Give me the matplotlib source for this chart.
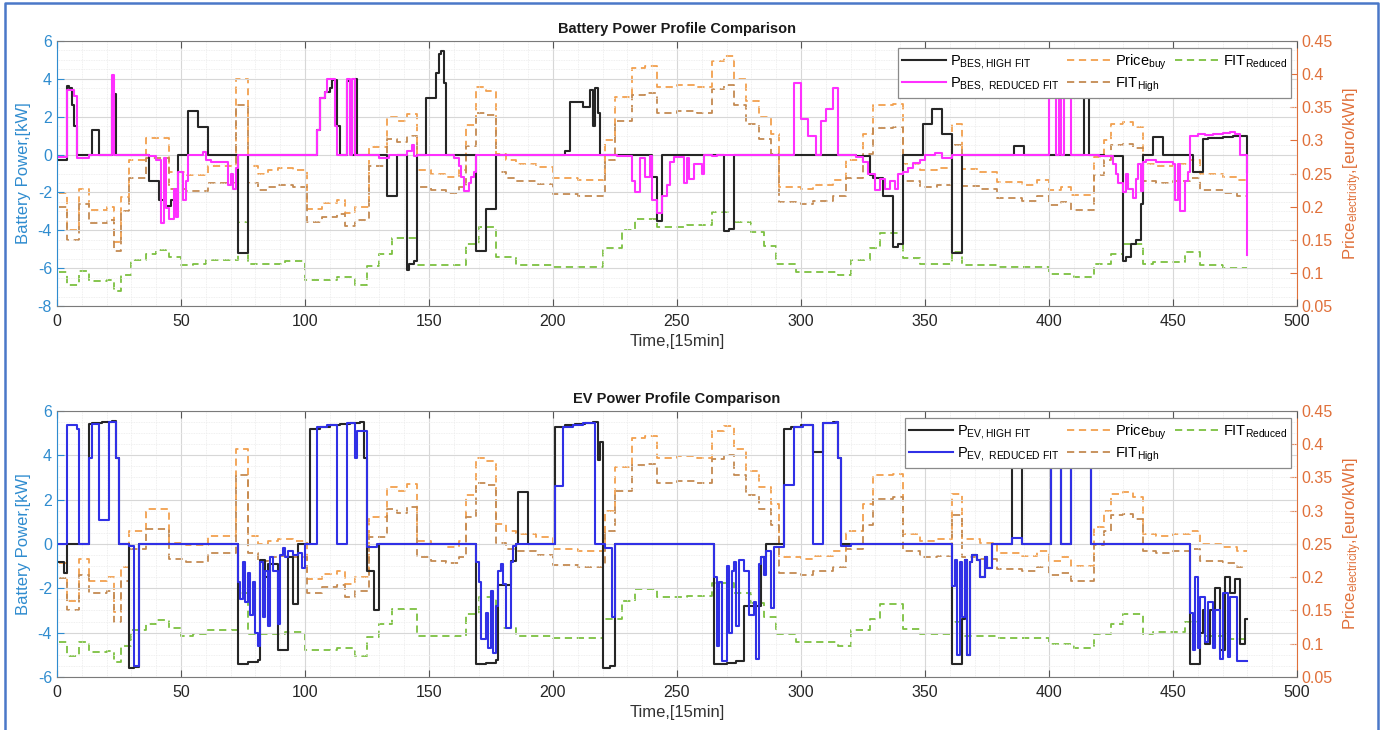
import numpy as np
import matplotlib
matplotlib.use('Agg')
import matplotlib.pyplot as plt
from matplotlib.ticker import MultipleLocator, FuncFormatter
from matplotlib.lines import Line2D

plt.rcParams['font.family'] = ['Liberation Sans', 'DejaVu Sans']
plt.rcParams['mathtext.default'] = 'regular'
plt.rcParams['axes.unicode_minus'] = False

# ---------------- data (time step index, 15 min) ----------------
t = np.arange(1, 481)

price_start = [0, 4, 9, 13, 20, 23, 26, 29, 36, 45, 52, 61, 72, 77, 81, 85, 89, 95, 101, 107,
               113, 116, 120, 126, 133, 137, 141, 145, 151, 157, 162, 165, 169, 173, 177, 181, 185, 193, 200, 210,
               221, 225, 232, 237, 242, 250, 258, 264, 269, 273, 278, 283, 288, 291, 300, 305, 313, 318, 325, 329,
               337, 341, 348, 355, 361, 365, 372, 379, 389, 395, 400, 405, 409, 418, 422, 425, 430, 434, 438, 443,
               450, 457, 461, 470, 476]
price_buy = [0.221, 0.165, 0.227, 0.195, 0.200, 0.147, 0.215, 0.270, 0.303, 0.252,
             0.248, 0.262, 0.393, 0.262, 0.250, 0.255, 0.258, 0.255, 0.197, 0.205,
             0.210, 0.190, 0.200, 0.290, 0.335, 0.330, 0.340, 0.255, 0.250, 0.245,
             0.255, 0.323, 0.380, 0.375, 0.280, 0.270, 0.265, 0.260, 0.243, 0.240,
             0.300, 0.366, 0.410, 0.412, 0.380, 0.383, 0.380, 0.420, 0.427, 0.393,
             0.360, 0.335, 0.310, 0.230, 0.227, 0.232, 0.240, 0.270, 0.310, 0.353,
             0.355, 0.265, 0.255, 0.258, 0.325, 0.257, 0.252, 0.237, 0.232, 0.240,
             0.225, 0.230, 0.217, 0.275, 0.300, 0.325, 0.328, 0.320, 0.265, 0.262,
             0.265, 0.270, 0.250, 0.245, 0.240]
fit_high = [0.199, 0.150, 0.204, 0.176, 0.180, 0.133, 0.194, 0.243, 0.273, 0.227,
            0.223, 0.236, 0.354, 0.236, 0.225, 0.230, 0.232, 0.230, 0.177, 0.185,
            0.189, 0.171, 0.180, 0.261, 0.302, 0.297, 0.306, 0.230, 0.225, 0.221,
            0.230, 0.291, 0.342, 0.338, 0.252, 0.243, 0.239, 0.234, 0.219, 0.216,
            0.270, 0.329, 0.369, 0.371, 0.342, 0.345, 0.342, 0.378, 0.384, 0.354,
            0.324, 0.302, 0.279, 0.207, 0.204, 0.209, 0.216, 0.243, 0.279, 0.318,
            0.320, 0.239, 0.230, 0.232, 0.293, 0.231, 0.227, 0.213, 0.209, 0.216,
            0.203, 0.207, 0.195, 0.248, 0.270, 0.293, 0.295, 0.288, 0.239, 0.236,
            0.239, 0.243, 0.225, 0.221, 0.216]

fit_red_start = [0, 4, 9, 13, 20, 23, 26, 30, 36, 40, 45, 50, 55, 60, 73, 77, 85, 92, 100, 113,
                 120, 125, 130, 135, 145, 165, 170, 177, 185, 200, 220, 228, 233, 242, 254, 264, 273, 280, 285, 290,
                 298, 315, 320, 328, 332, 341, 348, 361, 365, 380, 400, 410, 418, 425, 430, 438, 442, 455, 461, 470]
fit_reduced = [0.102, 0.082, 0.103, 0.088, 0.089, 0.073, 0.097, 0.120, 0.129, 0.135,
               0.124, 0.112, 0.114, 0.120, 0.177, 0.114, 0.114, 0.118, 0.090, 0.094,
               0.082, 0.110, 0.129, 0.152, 0.112, 0.144, 0.170, 0.124, 0.112, 0.109,
               0.137, 0.165, 0.182, 0.170, 0.172, 0.192, 0.177, 0.162, 0.140, 0.114,
               0.102, 0.097, 0.120, 0.137, 0.160, 0.122, 0.114, 0.132, 0.112, 0.109,
               0.099, 0.094, 0.114, 0.129, 0.144, 0.114, 0.117, 0.132, 0.112, 0.107]

# battery power, (start step, kW)
bes_high = [(0, -0.3), (4, 3.6), (5, 3.5), (6, 2.6), (7, 1.5), (8, 0), (14, 1.3), (17, 0), (22, 3.2), (24, 0),
            (37, -1.4), (41, -2.4), (43, -2.7), (46, -2.4), (49, 0), (53, 2.3), (57, 1.45), (61, 0), (73, -5.2),
            (77, 0), (105, 1.3), (106, 3.0), (108, 3.3), (110, 3.5), (111, 3.95), (113, 1.5), (114, 0), (117, 3.9),
            (119, 0), (120, 4.0), (121, 0), (133, -2.2), (137, 0), (141, -6.1), (142, -5.8), (144, -5.6), (145, 0),
            (149, 3.0), (153, 4.3), (154, 5.3), (155, 5.45), (156, 3.8), (157, 0), (169, -5.1), (173, -2.9),
            (177, 0), (205, 0.2), (207, 2.8), (212, 2.5), (215, 3.4), (216, 1.5), (217, 3.5), (218, 2.2), (219, 0),
            (240, -1.2), (242, -3.5), (244, 0), (269, -4.05), (271, -3.95), (273, 0), (322, -0.1), (328, -1.1),
            (329, -1.25), (333, -2.2), (337, -4.9), (339, -4.7), (341, 0), (349, 1.6), (353, 2.4), (357, 1.1),
            (361, -5.2), (365, 0), (386, 0.45), (390, 0), (414, 5.0), (416, 0), (422, -0.05), (430, -5.6),
            (431, -5.4), (433, -4.7), (435, -4.5), (437, -2.6), (438, 0), (442, 0.95), (446, 0), (458, -0.9),
            (462, 0.8), (464, 0.9), (470, 0.95), (474, 1.0), (480, -0.9)]
bes_reduced = [(0, -0.15), (4, 3.4), (7, 3.1), (8, -0.2), (13, 0), (22, 4.2), (23, 0), (37, -0.1), (40, -0.3),
               (42, -3.6), (43, -0.2), (44, -2.8), (45, -3.4), (47, -1.8), (48, -3.3), (49, -0.9), (51, -2.4),
               (52, -1.4), (53, 0), (59, 0.15), (60, -0.3), (62, -0.4), (69, -1.6), (70, -1.0), (71, -1.8),
               (72, -0.7), (73, 0), (105, 1.3), (106, 3.0), (108, 3.3), (109, 4.0), (112, 1.5), (113, 0),
               (117, 4.0), (118, 0), (119, 4.0), (120, 0), (130, -0.2), (134, 0), (141, 0.2), (143, 0.5),
               (144, -0.1), (145, 0), (160, -0.2), (162, -0.6), (163, -1.2), (164, -1.9), (166, -1.5), (167, -1.2),
               (168, -0.9), (169, 0), (226, -0.1), (232, -1.4), (233, -2.0), (235, -0.2), (237, -1.2), (239, -0.1),
               (240, -2.4), (242, -3.1), (244, -2.2), (246, -1.6), (247, -0.4), (249, -0.15), (253, -1.5),
               (254, -0.2), (255, -1.3), (257, -0.5), (260, -1.0), (261, 0), (264, -0.1), (266, 0), (297, 3.8),
               (300, 1.9), (303, 1.0), (306, 0), (308, 1.8), (310, 2.4), (313, 3.5), (315, 0), (322, -0.15),
               (325, -0.4), (327, -1.0), (330, -1.85), (332, -1.3), (334, -1.8), (336, -1.4), (338, -1.8),
               (339, -1.0), (341, -0.9), (343, -0.7), (345, -0.45), (348, -0.3), (350, 0), (354, 0.1),
               (357, -0.2), (361, 0), (400, 5.0), (403, 0), (404, 5.0), (405, 0), (406, 5.0), (409, 0),
               (420, -0.1), (426, -0.5), (427, -1.0), (428, -1.5), (430, -2.0), (431, -1.0), (432, -1.8),
               (434, -2.3), (435, -1.3), (436, -0.5), (437, -1.9), (438, -0.4), (439, -0.3), (443, -0.4),
               (450, -0.5), (451, -2.4), (452, -0.5), (453, -3.0), (455, -1.4), (456, -0.9), (457, 1.0),
               (460, 1.1), (463, 1.05), (466, 1.1), (470, 1.15), (473, 1.2), (475, 1.1), (477, 0), (480, -5.3)]

# EV power, (start step, kW)
ev_high = [(0, -0.8), (3, -1.3), (4, 0), (13, 5.4), (14, 5.45), (18, 5.5), (22, 5.55), (24, 3.9), (25, 0),
           (29, -5.6), (31, -5.55), (33, 0), (73, -5.4), (77, -5.33), (81, -5.25), (82, -0.7), (84, -1.5),
           (85, -0.9), (89, -4.8), (93, -0.6), (95, -2.7), (97, 0), (102, 5.2), (106, 5.3), (110, 5.35),
           (114, 5.4), (118, 5.45), (122, 5.5), (124, 3.9), (125, -1.2), (128, -3.0), (130, 0), (169, -5.4),
           (173, -5.35), (177, -5.25), (178, -1.85), (183, -0.75), (185, 0), (186, 2.35), (190, 0), (201, 5.3),
           (205, 5.35), (209, 5.4), (213, 5.45), (216, 5.5), (218, 3.8), (219, 4.6), (220, -5.6), (223, -5.5),
           (225, 0), (265, -5.4), (270, -5.35), (274, -5.3), (277, -2.8), (284, -0.6), (286, 0), (293, 5.2),
           (296, 5.3), (300, 5.35), (305, 4.15), (309, 5.45), (313, 5.5), (315, 3.9), (316, 0), (361, -5.4),
           (365, -3.4), (366, -0.7), (367, -5.0), (368, -0.8), (369, -0.5), (371, -0.7), (372, -1.5),
           (374, -0.6), (375, -1.1), (377, 0), (385, 5.3), (389, 0), (401, 5.3), (405, 0), (409, 5.3), (417, 0),
           (457, -5.4), (461, -4.0), (462, -3.0), (463, -4.5), (465, -3.0), (467, -2.0), (469, -4.8),
           (471, -1.5), (473, -2.2), (475, -1.6), (477, -4.5), (479, -3.4)]
ev_reduced = [(0, 0), (4, 5.35), (8, 5.2), (9, 0), (13, 3.9), (14, 5.4), (17, 1.07), (21, 5.5), (24, 3.9),
              (25, 0), (29, -0.1), (31, -5.5), (33, 0), (73, -1.7), (74, -2.5), (75, -0.8), (76, -2.6), (77, -1.3),
              (78, -3.2), (79, -1.7), (80, -4.0), (81, -4.6), (82, -0.8), (83, -3.3), (84, -1.2), (85, -3.7),
              (86, -0.6), (87, -1.2), (89, -3.6), (90, -0.5), (91, -0.2), (92, -0.6), (93, -0.3), (95, -0.5),
              (97, -0.4), (99, -1.1), (100, 0), (105, 5.3), (109, 5.35), (113, 0), (117, 5.45), (120, 3.9),
              (121, 5.1), (125, -0.13), (129, 0), (169, -0.8), (170, -1.7), (171, -4.3), (173, -3.1), (174, -4.7),
              (175, -2.1), (176, -4.9), (177, -2.8), (178, -1.2), (179, -0.9), (180, -1.8), (181, -3.8),
              (183, -0.8), (184, -0.1), (185, 0), (201, 2.6), (204, 5.3), (208, 5.35), (212, 5.45), (217, 0),
              (221, -0.2), (224, -3.3), (225, 0), (265, -1.5), (266, -4.6), (267, -1.7), (268, -5.3), (270, -1.0),
              (271, -4.0), (272, -1.2), (273, -0.8), (274, -3.7), (275, -0.7), (277, -1.2), (279, -3.2),
              (281, -2.6), (282, -5.2), (283, -0.9), (284, -0.6), (285, -1.4), (286, -0.3), (288, -2.9),
              (289, -0.15), (293, 2.65), (297, 5.3), (301, 5.35), (305, 0), (309, 5.45), (314, 5.5), (315, 3.9),
              (316, -0.1), (320, 0), (361, -1.9), (362, -0.7), (363, -5.0), (364, -0.8), (365, -3.3), (366, -0.7),
              (367, -5.0), (368, -0.8), (369, -0.5), (371, -0.7), (372, -1.5), (374, -0.6), (375, -1.1), (377, 0),
              (385, 0.27), (389, 0), (401, 5.3), (405, 0), (409, 5.3), (417, 0), (457, -3.1), (458, -4.8),
              (459, -1.5), (460, -4.7), (461, -2.4), (463, -4.4), (464, -2.6), (466, -4.7), (467, -3.0),
              (469, -5.2), (470, -2.2), (472, -5.1), (473, -2.4), (476, -5.3)]


def steps(starts, vals):
    starts = np.asarray(starts, dtype=float)
    vals = np.asarray(vals, dtype=float)
    idx = np.searchsorted(starts, t, side='right') - 1
    return vals[idx]


def steps_pairs(pairs):
    s, v = zip(*pairs)
    return steps(s, v)


p_buy = steps(price_start, price_buy)
p_fith = steps(price_start, fit_high)
p_fitr = steps(fit_red_start, fit_reduced)

# ---------------- style ----------------
C_LEFT = '#2f8ccf'
C_RIGHT = '#e0703a'
C_BUY = '#f2a04e'
C_FITH = '#c48a52'
C_FITR = '#7cc040'
C_BLACK = '#262626'
C_PINK = '#ff30ff'
C_BLUE = '#3030e6'
DASH = (4, 2.6)

fig = plt.figure(figsize=(13.82, 7.30), dpi=100)
fig.patch.set_facecolor('white')


def panel(rect, high, red, red_color, lab_high, lab_red, ylim, title):
    ax = fig.add_axes(rect)
    axr = ax.twinx()
    ax.set_zorder(axr.get_zorder() + 1)
    ax.patch.set_visible(False)
    axr.patch.set_facecolor('white')

    l3, = axr.plot(t, p_buy, color=C_BUY, lw=1.3, dashes=DASH, drawstyle='steps-post')
    l4, = axr.plot(t, p_fith, color=C_FITH, lw=1.3, dashes=DASH, drawstyle='steps-post')
    l5, = axr.plot(t, p_fitr, color=C_FITR, lw=1.3, dashes=DASH, drawstyle='steps-post')
    l1, = ax.plot(t, high, color=C_BLACK, lw=1.5, drawstyle='steps-post')
    l2, = ax.plot(t, red, color=red_color, lw=1.5, drawstyle='steps-post')

    ax.set_xlim(0, 500)
    ax.set_ylim(*ylim)
    axr.set_ylim(0.05, 0.45)
    ax.xaxis.set_major_locator(MultipleLocator(50))
    ax.xaxis.set_minor_locator(MultipleLocator(10))
    ax.yaxis.set_major_locator(MultipleLocator(2))
    ax.yaxis.set_minor_locator(MultipleLocator(0.5))
    axr.yaxis.set_major_locator(MultipleLocator(0.05))
    axr.yaxis.set_major_formatter(FuncFormatter(lambda v, p: ('%.2f' % v).rstrip('0')))

    ax.grid(which='major', color='#d7d7d7', lw=0.8)
    ax.grid(which='minor', color='#ebebeb', lw=0.6, linestyle=(0, (1, 1)))

    ax.tick_params(axis='x', which='major', direction='in', top=True, length=5,
                   colors='#555555', labelcolor='#262626', labelsize=11.5, pad=6)
    ax.tick_params(axis='y', which='major', direction='in', length=5,
                   colors=C_LEFT, labelsize=11.5)
    ax.tick_params(which='minor', length=0)
    axr.tick_params(axis='y', direction='in', length=5, colors=C_RIGHT, labelsize=11.5)

    for s in ['top', 'bottom']:
        ax.spines[s].set_color('#7a7a7a')
    ax.spines['left'].set_color(C_LEFT)
    ax.spines['right'].set_visible(False)
    axr.spines['right'].set_color(C_RIGHT)
    for s in ['left', 'top', 'bottom']:
        axr.spines[s].set_visible(False)

    ax.set_ylabel('Battery Power,[kW]', color=C_LEFT, fontsize=12, labelpad=5)
    axr.set_ylabel('Price$_{electricity}$,[euro/kWh]', color=C_RIGHT, fontsize=12, labelpad=6)
    ax.set_xlabel('Time,[15min]', color='#333333', fontsize=12, labelpad=3)
    ax.set_title(title, fontsize=10.5, fontweight='bold', color='#1a1a1a', pad=6)

    leg = ax.legend([l1, l2, l3, l4, l5],
                    [lab_high, lab_red, 'Price$_{buy}$', 'FIT$_{High}$', 'FIT$_{Reduced}$'],
                    ncol=3, loc='upper right', bbox_to_anchor=(0.9955, 0.974),
                    borderaxespad=0, fontsize=10.5, handlelength=3.0, handletextpad=0.3,
                    columnspacing=0.5, labelspacing=0.25, borderpad=0.3,
                    fancybox=False, framealpha=1, edgecolor='#8a8a8a')
    leg.get_frame().set_linewidth(0.9)
    leg.set_zorder(20)
    return ax, axr


panel([0.0412, 0.5808, 0.8973, 0.363], steps_pairs(bes_high), steps_pairs(bes_reduced), C_PINK,
      'P$_{BES,HIGH\\ FIT}$', 'P$_{BES,\\ REDUCED\\ FIT}$', (-8, 6), 'Battery Power Profile Comparison')
panel([0.0412, 0.0726, 0.8973, 0.3644], steps_pairs(ev_high), steps_pairs(ev_reduced), C_BLUE,
      'P$_{EV,HIGH\\ FIT}$', 'P$_{EV,\\ REDUCED\\ FIT}$', (-6, 6), 'EV Power Profile Comparison')

# outer blue frame of the picture
W, H = 1382, 730
frame_x = [5 / W, 5 / W, 1378 / W, 1378 / W]
frame_y = [0.0, 1 - 3 / H, 1 - 3 / H, 0.0]
fig.add_artist(Line2D(frame_x, frame_y, transform=fig.transFigure, color='#4a78c8', lw=1.8))

fig.savefig('out.png', dpi=100)
